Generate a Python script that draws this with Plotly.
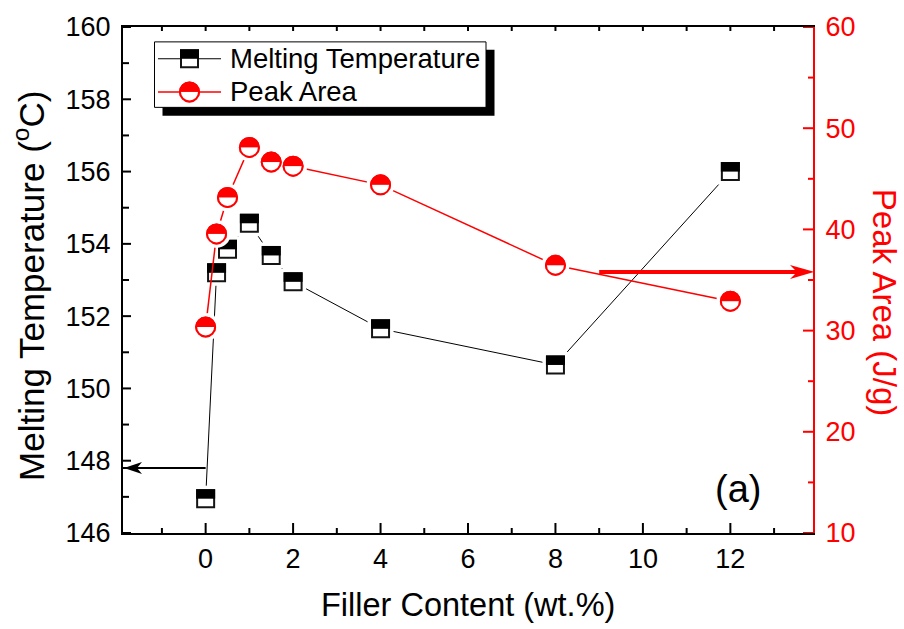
import plotly.graph_objects as go

# ---------------- data ----------------
filler_content = [0, 0.25, 0.5, 1, 1.5, 2, 4, 8, 12]
melting_temp = [146.95, 153.2, 153.85, 154.57, 153.68, 152.95, 151.65, 150.65, 156.0]
peak_area = [30.35, 39.55, 43.15, 48.1, 46.65, 46.25, 44.4, 36.45, 32.9]

series_names = ["Melting Temperature", "Peak Area"]
x_title = "Filler Content (wt.%)"
y_title = "Melting Temperature (<sup>o</sup>C)"
y2_title = "Peak Area (J/g)"
panel_label = "(a)"

# tick positions
x_major = [0, 2, 4, 6, 8, 10, 12]
x_minor = [-1, 1, 3, 5, 7, 9, 11, 13]
y_major = [146, 148, 150, 152, 154, 156, 158, 160]
y_minor = [147, 149, 151, 153, 155, 157, 159]
y2_major = [10, 20, 30, 40, 50, 60]
y2_minor = [15, 25, 35, 45, 55]

# arrows: (start x, level) pointing to the owning axis
arrow_temp = (0, 147.8)     # points left to temperature axis
arrow_area = (9, 35.8)      # points right to peak-area axis

# ---------------- layout constants ----------------
W, H = 904, 629
ML, MR, MT, MB = 123, 91, 23, 96
PW, PH = W - ML - MR, H - MT - MB
X_RANGE = [-1.89, 13.89]
Y_RANGE = [146, 160]
Y2_RANGE = [10, 60]
FONT = "Arial, 'Liberation Sans', sans-serif"
RED = "#ff0000"
CLEAR = "rgba(0,0,0,0)"

SQ, SQ_LW = 17, 2          # square marker
CS, CLW = 19, 2            # circle marker
HALO = 7

y_px = PH / (Y_RANGE[1] - Y_RANGE[0])
y2_px = PH / (Y2_RANGE[1] - Y2_RANGE[0])

sq_band_th = (SQ + SQ_LW) / 2
sq_shift = (sq_band_th / 2) / y_px
c_band_th = CS / 2
c_shift = (c_band_th / 2) / y2_px


def px_x(p):
    return (p - ML) / PW


def px_y(p):
    return (H - MB - p) / PH


def px_to_xdata(p):
    return X_RANGE[0] + px_x(p) * (X_RANGE[1] - X_RANGE[0])


fig = go.Figure()
common = dict(showlegend=False, hoverinfo="skip")

# ---- black series (temperature) ----
fig.add_trace(go.Scatter(x=filler_content, y=melting_temp, mode="lines",
                         line=dict(color="black", width=1), xaxis="x", yaxis="y", **common))
fig.add_trace(go.Scatter(x=filler_content, y=melting_temp, mode="markers",
                         marker=dict(symbol="square", size=SQ + SQ_LW + HALO, color="white",
                                     line=dict(width=0)), xaxis="x", yaxis="y", **common))
fig.add_trace(go.Scatter(x=filler_content, y=melting_temp, mode="markers",
                         marker=dict(symbol="square", size=SQ, color="white",
                                     line=dict(width=SQ_LW, color="#151515")),
                         xaxis="x", yaxis="y", **common))
fig.add_trace(go.Scatter(x=filler_content, y=melting_temp, mode="markers",
                         marker=dict(symbol="line-ew", size=(SQ + SQ_LW) / 1.4, color="black",
                                     line=dict(width=sq_band_th, color="black")),
                         xaxis="x", yaxis="y2", **common))

# ---- red series (peak area) ----
fig.add_trace(go.Scatter(x=filler_content, y=peak_area, mode="lines",
                         line=dict(color=RED, width=1.5), xaxis="x", yaxis="y3", **common))
fig.add_trace(go.Scatter(x=filler_content, y=peak_area, mode="markers",
                         marker=dict(symbol="circle", size=CS + CLW + HALO, color="white",
                                     line=dict(width=0)), xaxis="x", yaxis="y3", **common))
fig.add_trace(go.Scatter(x=filler_content, y=peak_area, mode="markers",
                         marker=dict(symbol="circle", size=CS, color=RED,
                                     line=dict(width=CLW, color=RED)),
                         xaxis="x", yaxis="y3", **common))
fig.add_trace(go.Scatter(x=filler_content, y=peak_area, mode="markers",
                         marker=dict(symbol="line-ew", size=CS / 1.4, color="white",
                                     line=dict(width=c_band_th, color="white")),
                         xaxis="x", yaxis="y4", **common))
fig.add_trace(go.Scatter(x=filler_content, y=peak_area, mode="markers",
                         marker=dict(symbol="circle-open", size=CS, color=RED,
                                     line=dict(width=CLW, color=RED)),
                         xaxis="x", yaxis="y5", **common))

# ---- legend samples (overlay axis y6 measured in page pixels) ----
LEG_X0, LEG_X1, LEG_XM = px_to_xdata(158), px_to_xdata(221), px_to_xdata(189.5)
ROW1, ROW2 = 55, 88.5
fig.add_trace(go.Scatter(x=[LEG_X0, LEG_X1], y=[ROW1, ROW1], mode="lines",
                         line=dict(color="black", width=1), xaxis="x", yaxis="y6", **common))
fig.add_trace(go.Scatter(x=[LEG_XM], y=[ROW1], mode="markers",
                         marker=dict(symbol="square", size=SQ, color="white",
                                     line=dict(width=SQ_LW, color="#151515")),
                         xaxis="x", yaxis="y6", **common))
fig.add_trace(go.Scatter(x=[LEG_XM], y=[ROW1 - sq_band_th / 2], mode="markers",
                         marker=dict(symbol="line-ew", size=(SQ + SQ_LW) / 1.4, color="black",
                                     line=dict(width=sq_band_th, color="black")),
                         xaxis="x", yaxis="y6", **common))
fig.add_trace(go.Scatter(x=[LEG_X0, LEG_X1], y=[ROW2, ROW2], mode="lines",
                         line=dict(color=RED, width=1.5), xaxis="x", yaxis="y6", **common))
fig.add_trace(go.Scatter(x=[LEG_XM], y=[ROW2], mode="markers",
                         marker=dict(symbol="circle", size=CS, color=RED,
                                     line=dict(width=CLW, color=RED)),
                         xaxis="x", yaxis="y6", **common))
fig.add_trace(go.Scatter(x=[LEG_XM], y=[ROW2 + c_band_th / 2], mode="markers",
                         marker=dict(symbol="line-ew", size=CS / 1.4, color="white",
                                     line=dict(width=c_band_th, color="white")),
                         xaxis="x", yaxis="y6", **common))
fig.add_trace(go.Scatter(x=[LEG_XM], y=[ROW2], mode="markers",
                         marker=dict(symbol="circle-open", size=CS, color=RED,
                                     line=dict(width=CLW, color=RED)),
                         xaxis="x", yaxis="y6", **common))

# ---------------- axes ----------------
bare = dict(overlaying="y", anchor="x", showline=False, ticks="", showticklabels=False,
            showgrid=False, zeroline=False, fixedrange=True)
tickfont = dict(family=FONT, size=27, color="black")
fig.update_layout(
    width=W, height=H, margin=dict(l=ML, r=MR, t=MT, b=MB, pad=0),
    paper_bgcolor="white", plot_bgcolor=CLEAR, showlegend=False,
    font=dict(family=FONT, color="black"),
    xaxis=dict(range=X_RANGE, tickmode="array", tickvals=x_major, ticks="",
               showline=True, linewidth=2, linecolor="black", mirror=True,
               showgrid=False, zeroline=False, tickfont=tickfont, ticklabelstandoff=1,
               anchor="y", domain=[0, 1]),
    yaxis=dict(range=Y_RANGE, tickmode="array", tickvals=y_major, ticks="",
               showline=True, linewidth=2, linecolor="black",
               showgrid=False, zeroline=False, tickfont=tickfont, ticklabelstandoff=5,
               anchor="x", domain=[0, 1]),
    yaxis2=dict(range=[Y_RANGE[0] - sq_shift, Y_RANGE[1] - sq_shift], **bare),
    yaxis3=dict(range=Y2_RANGE, overlaying="y", side="right", anchor="x",
                tickmode="array", tickvals=y2_major, ticks="",
                showline=True, linewidth=2, linecolor=RED,
                showgrid=False, zeroline=False, ticklabelstandoff=5,
                tickfont=dict(family=FONT, size=27, color=RED)),
    yaxis4=dict(range=[Y2_RANGE[0] + c_shift, Y2_RANGE[1] + c_shift], **bare),
    yaxis5=dict(range=Y2_RANGE, **bare),
    yaxis6=dict(range=[H - MB, MT], **bare),
)

shapes = []
# ---------------- tick marks (placed through the axes) ----------------
def xtick(v, length, at_top):
    return dict(type="line", xref="x", yref="paper", ysizemode="pixel",
                yanchor=1 if at_top else 0, x0=v, x1=v, y0=0,
                y1=-length if at_top else length, line=dict(color="black", width=2))


def ytick(v, length, yref, right, color):
    return dict(type="line", xref="paper", yref=yref, xsizemode="pixel",
                xanchor=1 if right else 0, y0=v, y1=v, x0=0,
                x1=-length if right else length, line=dict(color=color, width=2))


shapes += [xtick(v, 10, False) for v in x_major] + [xtick(v, 5, False) for v in x_minor]
shapes += [xtick(v, 4, True) for v in x_major + x_minor]
shapes += [ytick(v, 8, "y", False, "black") for v in y_major]
shapes += [ytick(v, 6, "y", False, "black") for v in y_minor]
shapes += [ytick(v, 10, "y3", True, RED) for v in y2_major]
shapes += [ytick(v, 5, "y3", True, RED) for v in y2_minor]

# ---------------- legend box + shadow ----------------
shapes += [
    dict(type="rect", xref="paper", yref="paper", x0=px_x(162.5), x1=px_x(494.5),
         y0=px_y(112.5), y1=px_y(46), fillcolor="black", line=dict(width=0), layer="below"),
    dict(type="rect", xref="paper", yref="paper", x0=px_x(154.5), x1=px_x(486),
         y0=px_y(104), y1=px_y(38), fillcolor="white", line=dict(width=1, color="black"),
         layer="below"),
]

# ---------------- arrows ----------------
shapes += [
    dict(type="line", xref="x", yref="y", x0=arrow_temp[0], x1=X_RANGE[0],
         y0=arrow_temp[1], y1=arrow_temp[1], line=dict(color="black", width=2)),
    dict(type="path", xref="x", yref="y", xsizemode="pixel", ysizemode="pixel",
         xanchor=X_RANGE[0], yanchor=arrow_temp[1],
         path="M1,0 L19,6 L14,0 L19,-6 Z", fillcolor="black", line=dict(width=0)),
    dict(type="line", xref="x", yref="y3", x0=arrow_area[0], x1=X_RANGE[1] - 0.3,
         y0=arrow_area[1], y1=arrow_area[1], line=dict(color=RED, width=4)),
    dict(type="path", xref="x", yref="y3", xsizemode="pixel", ysizemode="pixel",
         xanchor=X_RANGE[1], yanchor=arrow_area[1],
         path="M1,0 L-23,7 L-16,0 L-23,-7 Z", fillcolor=RED, line=dict(width=0)),
]
fig.update_layout(shapes=shapes)

# ---------------- texts ----------------
annotations = [
    dict(text=series_names[0], x=px_x(228), y=px_y(ROW1), xref="paper", yref="paper",
         xanchor="left", yanchor="middle", showarrow=False, font=dict(size=27.5, family=FONT)),
    dict(text=series_names[1], x=px_x(228), y=px_y(ROW2), xref="paper", yref="paper",
         xanchor="left", yanchor="middle", showarrow=False, font=dict(size=27.5, family=FONT)),
    dict(text=x_title, x=px_x(468), y=px_y(606), xref="paper", yref="paper",
         xanchor="center", yanchor="middle", showarrow=False, font=dict(size=32.5, family=FONT)),
    dict(text=y_title, x=px_x(29), y=px_y(284), xref="paper", yref="paper", textangle=-90,
         xanchor="center", yanchor="middle", showarrow=False, font=dict(size=35, family=FONT)),
    dict(text=y2_title, x=px_x(884), y=px_y(300), xref="paper", yref="paper", textangle=90,
         xanchor="center", yanchor="middle", showarrow=False,
         font=dict(size=33, family=FONT, color=RED)),
    dict(text=panel_label, x=px_x(737.5), y=px_y(489), xref="paper", yref="paper",
         xanchor="center", yanchor="middle", showarrow=False, font=dict(size=38, family=FONT)),
]
fig.update_layout(annotations=annotations)

fig.write_html("out.html")
